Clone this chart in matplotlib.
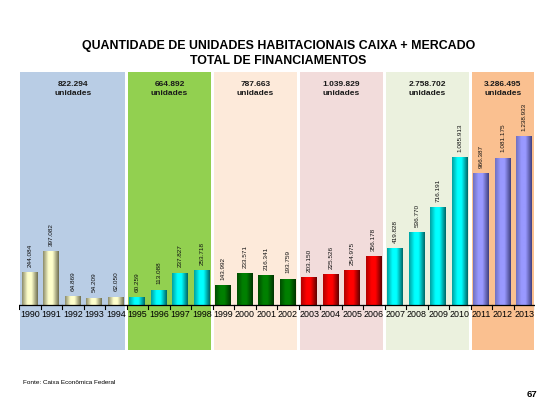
import numpy as np
import matplotlib
matplotlib.use("Agg")
import matplotlib.pyplot as plt
from matplotlib.colors import LinearSegmentedColormap

plt.rcParams['font.family'] = ['Liberation Sans', 'DejaVu Sans']

# ---- data ----
years = [str(y) for y in range(1990, 2014)]
values = [244084, 397082, 64869, 54209, 62050,
          60259, 113088, 237827, 253718,
          143992, 233571, 216341, 193759,
          203150, 225526, 254975, 356178,
          419828, 536770, 716191, 1085913,
          966387, 1081175, 1238933]
group_sizes = [5, 4, 4, 4, 4, 3]
group_totals = ["822.294", "664.892", "787.663", "1.039.829", "2.758.702", "3.286.495"]
group_bg = ["#b9cde5", "#92d050", "#fdeada", "#f2dcdb", "#ebf1de", "#fac090"]
group_bar = [("#8c8c6a", "#ffffcc", "#6e6e50"),
             ("#00a0a0", "#00ffff", "#006666"),
             ("#004d00", "#008000", "#003300"),
             ("#b00000", "#ff0000", "#600000"),
             ("#00a0a0", "#00ffff", "#006666"),
             ("#7070c0", "#9999ff", "#404080")]

def fmt(v):
    return f"{v:,}".replace(",", ".")

W, H = 557, 419
fig = plt.figure(figsize=(W / 100, H / 100), dpi=100)
fig.patch.set_facecolor("white")
ax = fig.add_axes([19 / W, (H - 350) / H, 516 / W, 278 / H])
ax.set_xlim(-0.5, len(years) - 0.5)
ax.set_ylim(-330000, 1708000)
ax.axis("off")

# background panels
start = 0
bar_colors = []
for gi, n in enumerate(group_sizes):
    x0 = start - 0.5 + 0.05
    x1 = start + n - 0.5 - 0.05
    ax.axvspan(x0, x1, color=group_bg[gi], zorder=0, lw=0)
    cx = start + (n - 1) / 2
    ax.text(cx, 1585000, group_totals[gi] + "\nunidades", ha="center", va="center",
            fontsize=6.0, fontweight="bold", color="#1a1a1a", linespacing=1.35, zorder=5)
    bar_colors += [group_bar[gi]] * n
    start += n

x = np.arange(len(years))
bars = ax.bar(x, values, width=0.74, zorder=2, lw=0,
              color=[c[1] for c in bar_colors])

# cylinder-like gradient inside each bar
t = np.linspace(0, 1, 64)
for b, (edge, mid, dark) in zip(bars, bar_colors):
    cmap = LinearSegmentedColormap.from_list("g", [(0, edge), (0.35, mid), (0.6, mid), (1, dark)])
    grad = np.vstack([t, t])
    im = ax.imshow(grad, cmap=cmap, aspect="auto", zorder=3,
                   extent=(b.get_x(), b.get_x() + b.get_width(), 0, b.get_height()),
                   interpolation="bilinear")
    im.set_clip_path(b)
    ax.text(b.get_x() + b.get_width() / 2, b.get_height() + 38000, fmt(int(b.get_height())),
            rotation=90, ha="center", va="bottom", fontsize=4.6, color="#111111", zorder=5)

ax.set_xlim(-0.5, len(years) - 0.5)
ax.set_ylim(-330000, 1708000)

# baseline and ticks
ax.plot([-0.5, len(years) - 0.5], [0, 0], color="black", lw=0.9, zorder=4)
for k in range(len(years) + 1):
    ax.plot([k - 0.5, k - 0.5], [0, -28000], color="black", lw=0.8, zorder=4)
for i, yl in enumerate(years):
    ax.text(i, -72000, yl, ha="center", va="center", fontsize=6.4, color="black", zorder=5)

# titles and footer
fig.text(278.5 / W, 1 - 46.5 / H, "QUANTIDADE DE UNIDADES HABITACIONAIS CAIXA + MERCADO",
         ha="center", va="center", fontsize=8.9, fontweight="bold", color="#000000")
fig.text(278.5 / W, 1 - 60.5 / H, "TOTAL DE FINANCIAMENTOS",
         ha="center", va="center", fontsize=8.9, fontweight="bold", color="#000000")
fig.text(23 / W, 1 - 382 / H, "Fonte: Caixa Econômica Federal", ha="left", va="center",
         fontsize=4.6, color="black")
fig.text(537 / W, 1 - 394 / H, "67", ha="right", va="center", fontsize=6.8,
         fontweight="bold", color="black")

fig.savefig("out.png", dpi=100, facecolor="white")
